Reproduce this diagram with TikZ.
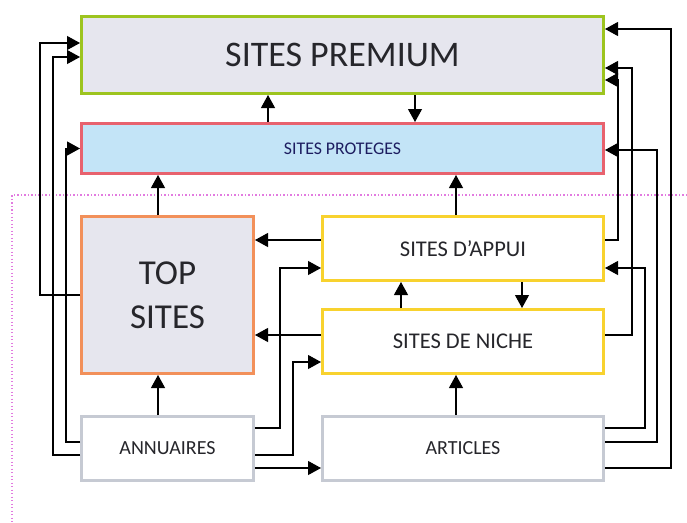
\documentclass[tikz,border=0pt]{standalone}
\usepackage{fontspec}
\setmainfont{Carlito}
\usetikzlibrary{arrows.meta,positioning}

\definecolor{premiumline}{HTML}{9DC41F}
\definecolor{premiumfill}{HTML}{E6E6EE}
\definecolor{protline}{HTML}{E8626E}
\definecolor{protfill}{HTML}{C3E4F7}
\definecolor{topline}{HTML}{F2905A}
\definecolor{nicheline}{HTML}{F8D22E}
\definecolor{basegray}{HTML}{C6CAD3}
\definecolor{guidepink}{HTML}{E27BE0}
\definecolor{ink}{HTML}{26262B}

\begin{document}
\begin{tikzpicture}[x=1pt, y=-1pt, ->, >={Triangle[length=13pt,width=14pt]},
    line width=1.1pt, node distance=40pt,
    box/.style={line width=3pt, inner sep=0pt, text=ink, align=center},
    premiumbox/.style={box, draw=premiumline, fill=premiumfill},
    protbox/.style={box, draw=protline, fill=protfill, text=ink!75!blue},
    topbox/.style={box, draw=topline, fill=premiumfill},
    nichebox/.style={box, draw=nicheline, fill=white},
    basebox/.style={box, draw=basegray, fill=white}]
    \useasboundingbox[-] (0,0) rectangle (687,522);
    \draw[-, guidepink, line width=1.3pt, dash pattern=on 1.3pt off 2.2pt]
        (687,195) -- (12,195) -- (12,522);

    \node[premiumbox, minimum width=522pt, minimum height=77pt,
          font=\fontsize{36}{42}\selectfont] at (342.5,55) (premium) {SITES PREMIUM};
    \node[protbox, minimum width=522pt, minimum height=50pt, below=27pt of premium,
          font=\fontsize{17.8}{20}\selectfont] (proteges) {SITES PROTEGES};
    \node[topbox, minimum width=172pt, minimum height=157pt,
          below right=40pt and 0pt of proteges.south west,
          font=\fontsize{35}{44}\selectfont] (top) {TOP\\SITES};
    \node[nichebox, minimum width=281pt, minimum height=64pt,
          below left=40pt and 0pt of proteges.south east,
          font=\fontsize{22.5}{27}\selectfont] (appui) {SITES D’APPUI};
    \node[nichebox, minimum width=281pt, minimum height=64pt, below=26pt of appui,
          font=\fontsize{22.5}{27}\selectfont] (niche) {SITES DE NICHE};
    \node[basebox, minimum width=172pt, minimum height=64pt, below=of top,
          font=\fontsize{20}{24}\selectfont] (annuaires) {ANNUAIRES};
    \node[basebox, minimum width=281pt, minimum height=64pt, below=of niche,
          font=\fontsize{20}{24}\selectfont] (articles) {ARTICLES};

    % up and down between the boxes
    \draw ([xshift=-74.5pt]proteges.north) -- ([xshift=-74.5pt]premium.south);
    \draw ([xshift=72.5pt]premium.south) -- ([xshift=72.5pt]proteges.north);
    \draw ([xshift=-9.5pt]top.north) -- ([xshift=-184.5pt]proteges.south);
    \draw ([xshift=-7pt]appui.north) -- ([xshift=113.5pt]proteges.south);
    \draw ([xshift=-62pt]niche.north) -- ([xshift=-62pt]appui.south);
    \draw ([xshift=59pt]appui.south) -- ([xshift=59pt]niche.north);
    \draw ([xshift=-9.5pt]annuaires.north) -- ([xshift=-9.5pt]top.south);
    \draw ([xshift=-7pt]articles.north) -- ([xshift=-7pt]niche.south);
    \draw ([yshift=8.5pt]appui.west) -- ([yshift=55pt]top.east);
    \draw ([yshift=6.5pt]niche.west) -- ([yshift=-40pt]top.east);

    % left side
    \draw (top.west) -- ++(-40,0) |- ([yshift=12pt]premium.west);
    \draw ([yshift=-6.5pt]annuaires.west) -- ++(-27,0) |- ([yshift=-2pt]premium.west);
    \draw ([yshift=6.5pt]annuaires.west) -- ++(-14,0) |- (proteges.west);

    % from annuaires
    \draw ([yshift=20.5pt]annuaires.east) -- ++(25,0) |- ([yshift=-19.5pt]appui.west);
    \draw ([yshift=-6.5pt]annuaires.east) -- ++(38,0) |- ([yshift=-20.5pt]niche.west);
    \draw ([yshift=-19.5pt]annuaires.east) -- ([yshift=-19.5pt]articles.west);

    % right side
    \draw ([yshift=8.5pt]appui.east) -- ++(13,0) |- ([yshift=-25pt]premium.east);
    \draw ([yshift=6.5pt]niche.east) -- ++(27,0) |- ([yshift=-13pt]premium.east);
    \draw ([yshift=20.5pt]articles.east) -- ++(40,0) |- ([yshift=-19.5pt]appui.east);
    \draw ([yshift=6.5pt]articles.east) -- ++(52,0) |- ([yshift=-1.5pt]proteges.east);
    \draw ([yshift=-19.5pt]articles.east) -- ++(66,0) |- ([yshift=26pt]premium.east);
\end{tikzpicture}
\end{document}
